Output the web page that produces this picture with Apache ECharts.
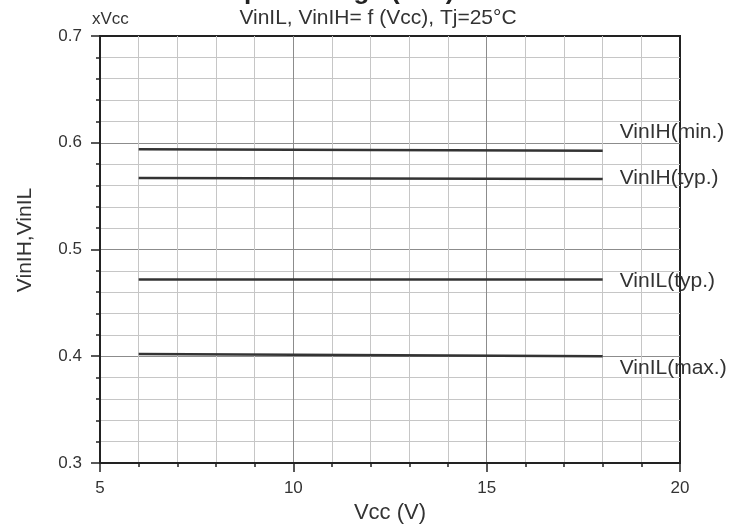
<!DOCTYPE html>
<html>
<head>
<meta charset="utf-8">
<script src="https://cdn.jsdelivr.net/npm/echarts@6/dist/echarts.min.js"></script>
<style>
  html, body { margin: 0; padding: 0; background: #fff; }
  #chart { width: 742px; height: 532px; }
</style>
</head>
<body>
<div id="chart"></div>
<script>
// Supply voltage points where each threshold was characterised (V)
const vcc = [6, 18];

// Input thresholds, expressed as a fraction of Vcc
const vinIHmin = [0.594, 0.5925];
const vinIHtyp = [0.567, 0.566];
const vinILtyp = [0.472, 0.472];
const vinILmax = [0.402, 0.400];

const seriesNames = ['VinIH(min.)', 'VinIH(typ.)', 'VinIL(typ.)', 'VinIL(max.)'];
const seriesValues = [vinIHmin, vinIHtyp, vinILtyp, vinILmax];
// vertical nudge of each end label relative to its line
const labelShift = [-19, -1, 2, 12];

const xTicks = { min: 5, max: 20, step: 5 };
const yTicks = { min: 0.3, max: 0.7, step: 0.1 };

const FONT = '"Liberation Sans", Arial, sans-serif';
const INK = '#222';

const chart = echarts.init(document.getElementById('chart'), null, { renderer: 'canvas' });

const series = seriesNames.map((name, i) => ({
  name,
  type: 'line',
  data: vcc.map((x, k) => [x, seriesValues[i][k]]),
  showSymbol: false,
  symbol: 'none',
  lineStyle: { color: '#333', width: 2.5 },
  silent: true,
  z: 5,
  endLabel: {
    show: true,
    formatter: '{a}',
    distance: 0,
    offset: [17, labelShift[i]],
    color: '#333',
    fontFamily: FONT,
    fontSize: 21
  }
}));

function axisCommon() {
  return {
    type: 'value',
    axisLine: { show: true, onZero: false, lineStyle: { color: INK, width: 2 } },
    axisTick: { show: true, inside: false, length: 9, lineStyle: { color: INK, width: 1.5 } },
    minorTick: { show: true, splitNumber: 5, length: 4, lineStyle: { color: INK, width: 1.5 } },
    splitLine: { show: true, showMinLine: false, showMaxLine: false, lineStyle: { color: '#8c8c8c', width: 1 } },
    minorSplitLine: { show: true, lineStyle: { color: '#c6c6c6', width: 1 } },
    axisLabel: { color: '#333', fontFamily: FONT, fontSize: 17 }
  };
}

const xAxis = Object.assign(axisCommon(), {
  min: xTicks.min,
  max: xTicks.max,
  interval: xTicks.step,
  name: 'Vcc (V)',
  nameLocation: 'middle',
  nameGap: 39,
  nameTextStyle: { color: '#333', fontFamily: FONT, fontSize: 22 }
});
xAxis.axisLabel.margin = 17;

const yAxis = Object.assign(axisCommon(), {
  min: yTicks.min,
  max: yTicks.max,
  interval: yTicks.step
});
yAxis.axisLabel.margin = 18;
yAxis.axisLabel.formatter = v => v.toFixed(1);

chart.setOption({
  animation: false,
  backgroundColor: '#fff',
  grid: {
    left: 100, right: 62, top: 36, bottom: 69,
    containLabel: false, outerBoundsMode: 'none',
    show: true, borderColor: INK, borderWidth: 2, backgroundColor: 'transparent'
  },
  xAxis,
  yAxis,
  series,
  graphic: [
    {
      type: 'text', x: 221, y: 5,
      style: {
        text: 'Input Voltage (Vcc)', fill: '#222',
        font: 'bold 26px ' + FONT, textAlign: 'left', textVerticalAlign: 'bottom'
      }
    },
    {
      type: 'text', x: 378, y: 18,
      style: {
        text: 'VinIL, VinIH= f (Vcc), Tj=25°C', fill: '#333',
        font: '21px ' + FONT, textAlign: 'center', textVerticalAlign: 'middle'
      }
    },
    {
      type: 'text', x: 92, y: 19,
      style: {
        text: 'xVcc', fill: '#333',
        font: '17px ' + FONT, textAlign: 'left', textVerticalAlign: 'middle'
      }
    },
    {
      type: 'text', x: 25, y: 240, rotation: Math.PI / 2,
      style: {
        text: 'VinIH,VinIL', fill: '#333',
        font: '21px ' + FONT, textAlign: 'center', textVerticalAlign: 'middle'
      }
    }
  ]
});
</script>
</body>
</html>
